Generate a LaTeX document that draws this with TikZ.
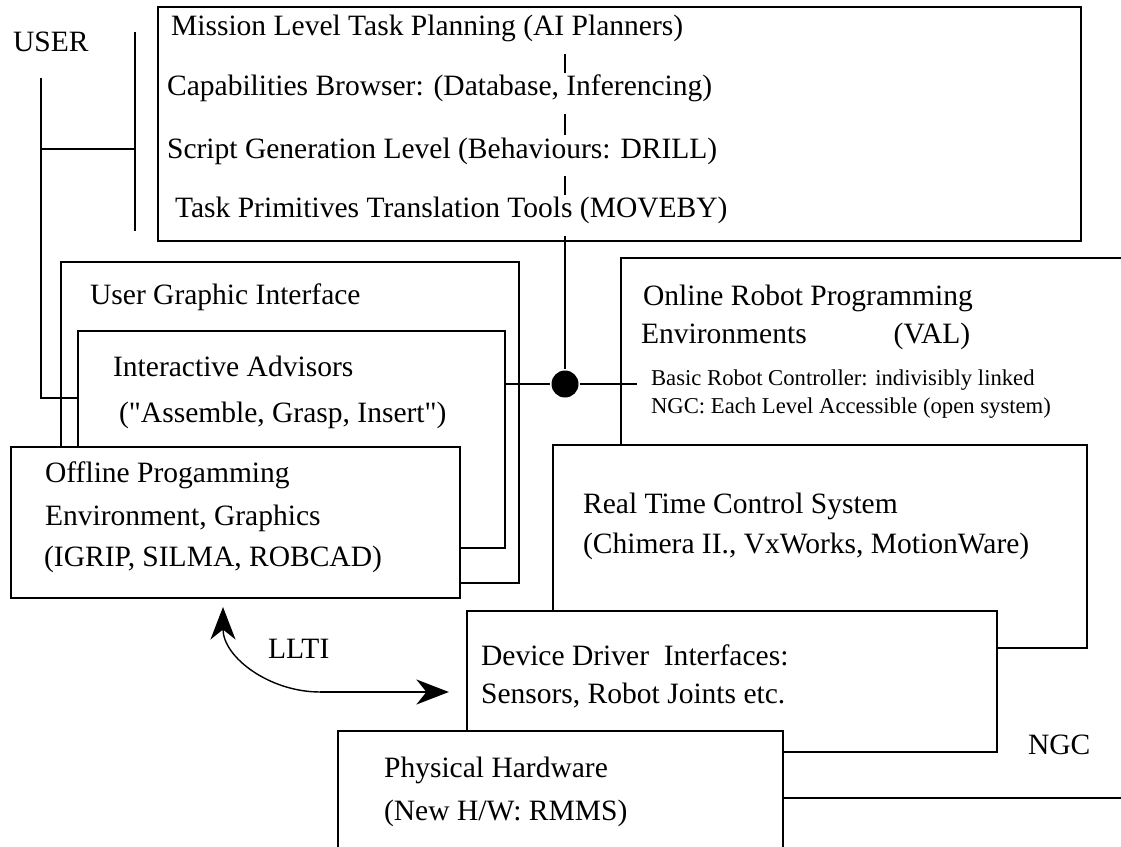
\documentclass[tikz,border=0pt]{standalone}
\usepackage{fontspec}
\setmainfont{Liberation Serif}[Ligatures=TeXOff]
\usetikzlibrary{arrows.meta,fit}

\begin{document}
\begin{tikzpicture}[x=0.2mm,y=-0.2mm,line width=1.25pt,
    font=\fontsize{16.8}{20}\selectfont,
    >={Stealth[length=6.5mm,width=5mm,inset=2mm]},
    box/.style={draw,fill=white,inner sep=0pt},
    txt/.style={anchor=base west,inner sep=0pt},
    lvl/.style={txt,text height=4.4mm,text depth=3.4mm},
    small/.style={txt,font=\fontsize{12.9}{15}\selectfont}]
      \useasboundingbox (0,0) rectangle (1121,847);
      \clip (0,0) rectangle (1121,847);

      \node[box,fit={(158,7) (1081,241)}] (plan) {};
      \node[box,fit={(61,262) (519,583)}] (ugi) {};
      \node[box,fit={(78,331) (505,548)}] (ia) {};
      \node[box,fit={(11,447) (460,598)}] (offline) {};
      \node[box,fit={(621,258) (1160,798)}] (ngc) {};
      \node[box,fit={(553,445) (1087,648)}] (rt) {};
      \node[box,fit={(467,611) (997,752)}] (device) {};
      \node[box,fit={(338,731) (783,880)}] (hw) {};

      \node[txt] (user) at (12,52) {USER};
      \node[lvl] (mission) at (170,36) {Mission Level Task Planning (AI Planners)};
      \node[lvl] (caps) at (166,96) {Capabilities Browser: (Database, Inferencing)};
      \node[lvl] (script) at (166,158) {Script Generation Level (Behaviours: DRILL)};
      \node[lvl] (prims) at (174,218) {Task Primitives Translation Tools (MOVEBY)};
      \node[txt] (ugi1) at (89,304) {User Graphic Interface};
      \node[txt] (ia1) at (112,376) {Interactive Advisors};
      \node[txt] (ia2) at (118,422) {("Assemble, Grasp, Insert")};
      \node[txt] (off1) at (44,482) {Offline Progamming};
      \node[txt] (off2) at (44,525) {Environment, Graphics};
      \node[txt] (off3) at (43,566) {(IGRIP, SILMA, ROBCAD)};
      \node[txt] (orpe1) at (642,305) {Online Robot Programming};
      \node[txt] (orpe2) at (640,343) {Environments\hspace{17.4mm}(VAL)};
      \node[small] (brc) at (650,385) {Basic Robot Controller: indivisibly linked};
      \node[small] (open) at (650,413) {NGC: Each Level Accessible (open system)};
      \node[txt] (rt1) at (582,513) {Real Time Control System};
      \node[txt] (rt2) at (582,553) {(Chimera II., VxWorks, MotionWare)};
      \node[txt] (dd1) at (480,665) {Device Driver~ Interfaces:};
      \node[txt] (dd2) at (480,703) {Sensors, Robot Joints etc.};
      \node[txt] (hw1) at (383,777) {Physical Hardware};
      \node[txt] (hw2) at (383,820) {(New H/W: RMMS)};
      \node[txt] (ngclbl) at (1027,754) {NGC};
      \node[txt] (llti) at (267,658) {LLTI};

      \node[circle,fill,inner sep=0pt,minimum size=5.4mm] (dot) at (565,384) {};
      \draw (mission.south -| dot) -- (caps.north -| dot);
      \draw (caps.south -| dot) -- (script.north -| dot);
      \draw (script.south -| dot) -- (prims.north -| dot);
      \draw (prims.south -| dot) -- (dot);
      \coordinate (brcend) at (637,384);
      \draw (ia.east |- dot) -- (dot) -- (brcend);

      \coordinate (utop) at (41,78);
      \coordinate (ubot) at (41,398);
      \coordinate (umid) at (41,149);
      \coordinate (btop) at (135,32);
      \coordinate (bbot) at (135,231);
      \draw (utop) -- (ubot) -- (ia.west |- ubot);
      \draw (btop) -- (bbot);
      \draw (umid) -- (umid -| btop);

      \coordinate (lltij) at (320,692);
      \coordinate (lltiup) at (223,607);
      \draw[->,line width=0.8pt] (lltij) to[out=180,in=-90] (lltiup);
      \draw[->,shorten >=3.4mm] (lltij) -- (device.west |- lltij);
    \end{tikzpicture}
\end{document}
